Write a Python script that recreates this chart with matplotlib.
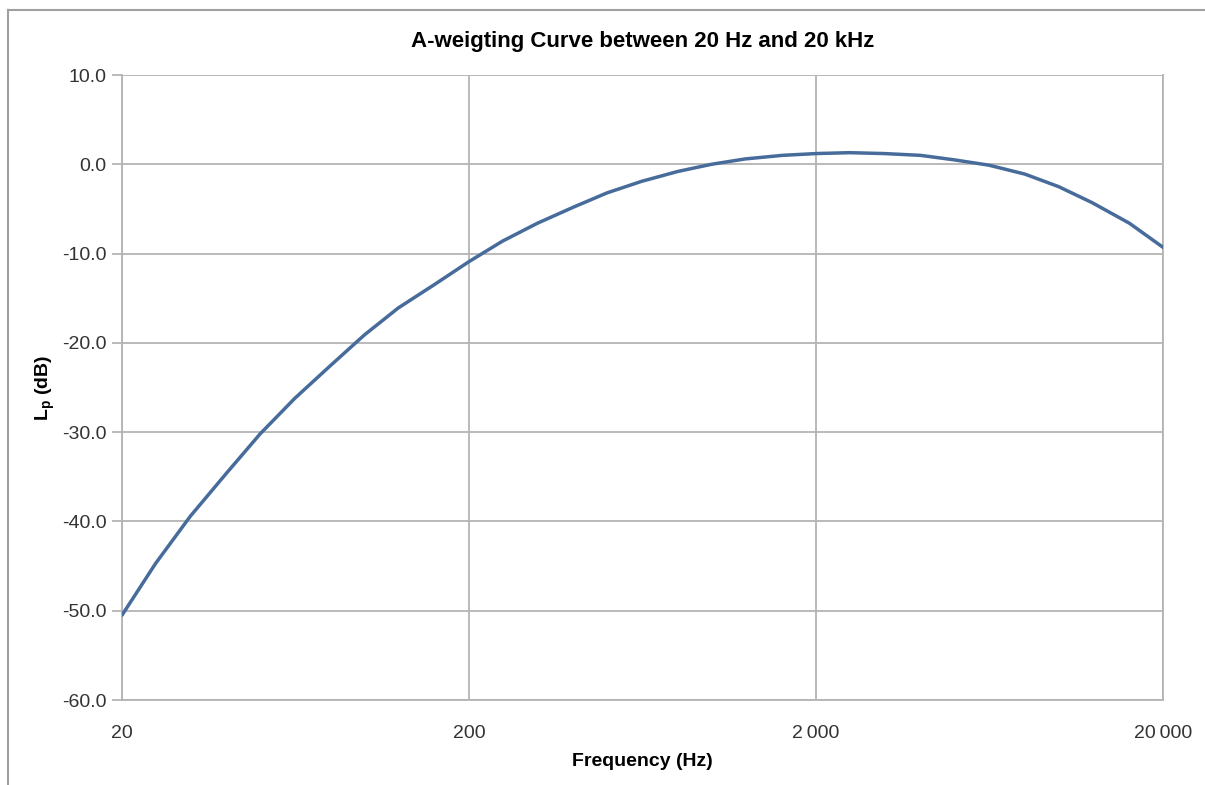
import matplotlib
matplotlib.use("Agg")
import matplotlib.pyplot as plt
from matplotlib.lines import Line2D
from matplotlib.ticker import FixedLocator, FixedFormatter, FormatStrFormatter

freqs = [20, 25, 31.5, 40, 50, 63, 80, 100, 125, 160, 200, 250, 315, 400, 500,
         630, 800, 1000, 1250, 1600, 2000, 2500, 3150, 4000, 5000, 6300, 8000,
         10000, 12500, 16000, 20000]
level_db = [-50.5, -44.7, -39.4, -34.6, -30.2, -26.2, -22.5, -19.1, -16.1, -13.4,
            -10.9, -8.6, -6.6, -4.8, -3.2, -1.9, -0.8, 0.0, 0.6, 1.0, 1.2, 1.3,
            1.2, 1.0, 0.5, -0.1, -1.1, -2.5, -4.3, -6.6, -9.3]
xtick_vals = [20, 200, 2000, 20000]
xtick_labels = ["20", "200", "2\u2009000", "20\u2009000"]
ytick_vals = [-60, -50, -40, -30, -20, -10, 0, 10]

FONT = ['Liberation Sans Narrow', 'Liberation Sans', 'DejaVu Sans']
plt.rcParams['font.family'] = FONT

fig = plt.figure(figsize=(12.05, 7.85), dpi=100)
ax = fig.add_axes([122/1205, 1-700/785, (1163-122)/1205, (700-75)/785])

ax.plot(freqs, level_db, color='#476c9b', lw=2.5, solid_capstyle='round', zorder=3)
ax.set_xscale('log')
ax.set_xlim(20, 20000)
ax.set_ylim(-60, 10)
ax.xaxis.set_major_locator(FixedLocator(xtick_vals))
ax.xaxis.set_major_formatter(FixedFormatter(xtick_labels))
ax.xaxis.set_minor_locator(FixedLocator([]))
ax.set_yticks(ytick_vals)
ax.yaxis.set_major_formatter(FormatStrFormatter('%.1f'))

grid_c = '#b4b4b4'
ax.grid(True, color=grid_c, lw=1.3)
ax.set_axisbelow(True)
for s in ['left', 'bottom', 'right']:
    ax.spines[s].set_color(grid_c)
    ax.spines[s].set_linewidth(1.3)
ax.spines['top'].set_visible(False)

ax.tick_params(axis='y', length=7, width=1.3, color=grid_c, labelsize=14,
               labelcolor='#333333', pad=4)
ax.tick_params(axis='x', length=0, labelsize=14, labelcolor='#333333', pad=18)

ax.set_title('A-weigting Curve between 20 Hz and 20 kHz', fontsize=16,
             fontweight='bold', pad=20)
ax.set_xlabel('Frequency (Hz)', fontsize=14, fontweight='bold', labelpad=8)
ax.set_ylabel(r'L$_\mathregular{p}$ (dB)', fontsize=14, fontweight='bold', labelpad=4)

# figure border (left & top)
fig.add_artist(Line2D([8/1205, 8/1205], [0, 1-10/785], transform=fig.transFigure,
                      color='#a0a0a0', lw=1.5))
fig.add_artist(Line2D([8/1205, 1], [1-10/785, 1-10/785], transform=fig.transFigure,
                      color='#a0a0a0', lw=1.5))

fig.savefig('out.png', dpi=100)
